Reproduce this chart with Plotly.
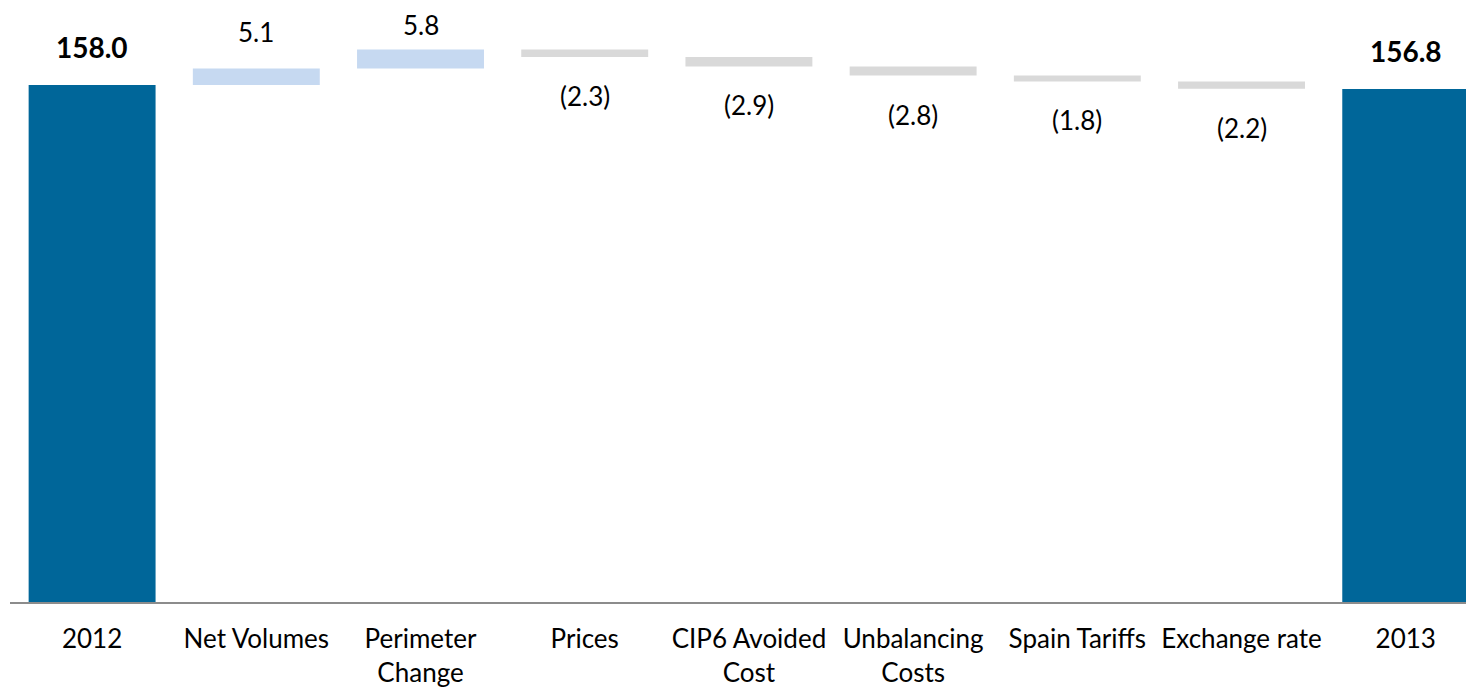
import plotly.graph_objects as go

categories = ["2012", "Net Volumes", "Perimeter<br>Change", "Prices", "CIP6 Avoided<br>Cost",
              "Unbalancing<br>Costs", "Spain Tariffs", "Exchange rate", "2013"]
values = [158.0, 5.1, 5.8, -2.3, -2.9, -2.8, -1.8, -2.2, 156.8]
measures = ["absolute", "relative", "relative", "relative", "relative",
            "relative", "relative", "relative", "absolute"]

DARK = "#006699"
LIGHT = "#C6D9F1"
GREY = "#D9D9D9"
FONT = "Lato"
YMAX = 184.0
PLOT_H = 602.0
PX_PER_UNIT = PLOT_H / YMAX

fig = go.Figure(go.Waterfall(
    x=list(range(len(categories))), y=values, measure=measures,
    increasing=dict(marker=dict(color=LIGHT)),
    decreasing=dict(marker=dict(color=GREY)),
    totals=dict(marker=dict(color=DARK)),
    connector=dict(visible=False),
    hoverinfo="skip",
))

# label positions in data units (clamped to stay inside the chart area top)
top_limit = YMAX - 25 / PX_PER_UNIT
annotations = []
cum = 0.0
for i, (v, m) in enumerate(zip(values, measures)):
    size = 26
    if m == "absolute":
        cum = v
        y = min(cum + 38 / PX_PER_UNIT, top_limit)
        txt = "<b>%.1f</b>" % v
        size = 28
    else:
        cum += v
        if v >= 0:
            y = min(cum + 36 / PX_PER_UNIT, top_limit)
            txt = "%.1f" % v
        else:
            y = cum - 39 / PX_PER_UNIT
            txt = "(%.1f)" % abs(v)
    annotations.append(dict(x=i, y=y, text=txt, showarrow=False, xref="x", yref="y",
                            yanchor="middle",
                            font=dict(family=FONT, size=size, color="black")))

fig.update_layout(
    width=1466, height=687,
    margin=dict(l=10, r=0, t=0, b=85),
    paper_bgcolor="white", plot_bgcolor="white",
    waterfallgap=0.227,
    showlegend=False,
    annotations=annotations,
    xaxis=dict(tickmode="array", tickvals=list(range(len(categories))), ticktext=categories,
               range=[-0.5, 8.367], showline=True,
               linecolor="#8C8C8C", linewidth=2, showgrid=False, zeroline=False, ticks="",
               tickfont=dict(family=FONT, size=26, color="black"),
               ticklabelstandoff=13, fixedrange=True),
    yaxis=dict(visible=False, range=[0, YMAX], showgrid=False, zeroline=False),
)

fig.write_html("out.html")
